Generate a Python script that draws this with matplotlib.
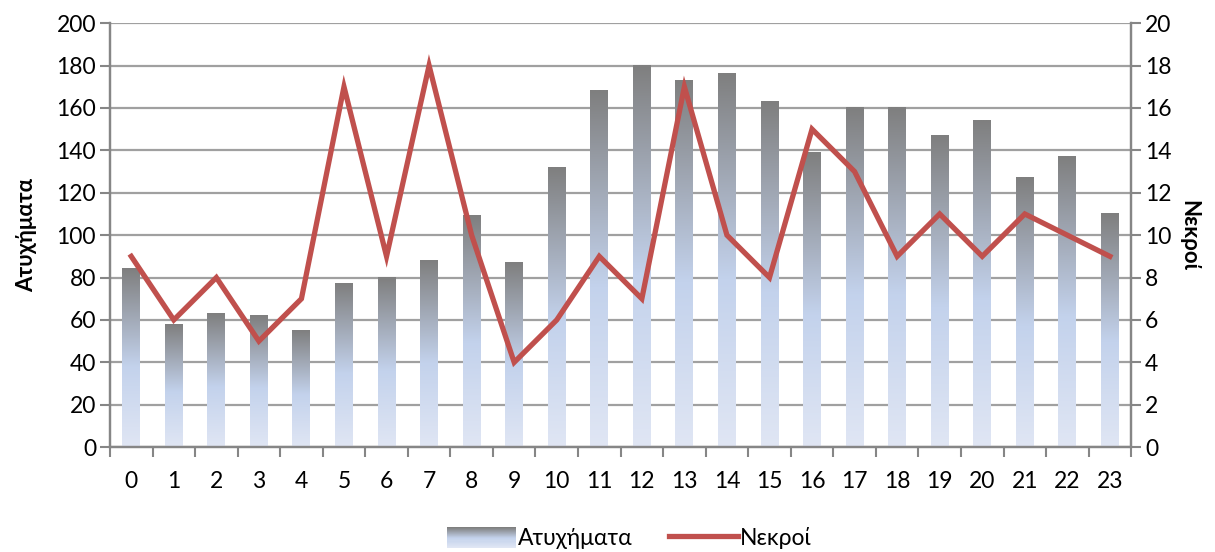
import numpy as np
import matplotlib
matplotlib.use('Agg')
import matplotlib.pyplot as plt
from matplotlib.colors import LinearSegmentedColormap
from matplotlib.legend_handler import HandlerBase
from matplotlib.patches import Rectangle
from matplotlib.lines import Line2D

plt.rcParams['font.family'] = ['Lato', 'DejaVu Sans']

hours = list(range(24))
accidents = [84, 58, 63, 62, 55, 77, 80, 88, 109, 87, 132, 168, 180, 173, 176, 163,
             139, 160, 160, 147, 154, 127, 137, 110]
deaths = [9, 6, 8, 5, 7, 17, 9, 18, 10, 4, 6, 9, 7, 17, 10, 8, 15, 13, 9, 11, 9, 11, 10, 9]

# gradient: light at bottom -> blue -> gray at top
cmap = LinearSegmentedColormap.from_list(
    'xl', [(0.0, '#E0E6F4'), (0.45, '#C3D2EC'), (1.0, '#7F7F7F')])
grad = np.linspace(0, 1, 256).reshape(-1, 1)

fig = plt.figure(figsize=(12.15, 5.52), dpi=100)
ax = fig.add_axes([0.0905, 0.19, 0.8405, 0.768])
ax2 = ax.twinx()

bars = ax.bar(hours, accidents, width=0.42, color='none', edgecolor='none', zorder=2)
for b in bars:
    x0, w, h = b.get_x(), b.get_width(), b.get_height()
    ax.imshow(grad, cmap=cmap, origin='lower', aspect='auto',
              extent=[x0, x0 + w, 0, h], zorder=2)

ax.set_xlim(-0.5, 23.5)
ax.set_ylim(0, 200)
ax.set_yticks(range(0, 201, 20))
ax.set_xticks(hours)
ax.set_xticks(np.arange(-0.5, 24, 1), minor=True)
ax.tick_params(axis='x', which='major', length=0, pad=17, labelsize=16.5)
ax.tick_params(axis='x', which='minor', length=7, width=1.5, color='#868686', direction='out')
ax.tick_params(axis='y', length=7, width=1.5, color='#868686', labelsize=16.5, pad=3)
ax.grid(axis='y', color='#A0A0A0', linewidth=1.6, zorder=0)
ax.set_axisbelow(True)
ax.set_ylabel('Ατυχήματα', fontsize=16, fontweight='bold', labelpad=14)

ax2.plot(hours, deaths, color='#C0504D', linewidth=3.8, solid_joinstyle='miter', zorder=3)
ax2.set_ylim(0, 20)
ax2.set_yticks(range(0, 21, 2))
ax2.tick_params(axis='y', length=7, width=1.5, color='#868686', labelsize=16.5, pad=3)
ax2.set_ylabel('Νεκροί', fontsize=16, fontweight='bold', rotation=270, labelpad=20)

for a in (ax, ax2):
    a.spines['top'].set_visible(False)
    for s in ('left', 'right', 'bottom'):
        a.spines[s].set_color('#868686')
        a.spines[s].set_linewidth(1.6)


class GradientHandler(HandlerBase):
    def create_artists(self, legend, orig_handle, xdescent, ydescent,
                       width, height, fontsize, trans):
        n = 20
        arts = []
        for i in range(n):
            r = Rectangle((-xdescent, -ydescent + height * i / n), width, height / n + 0.3,
                          facecolor=cmap(i / (n - 1)), edgecolor='none', transform=trans)
            arts.append(r)
        return arts


bar_handle = Rectangle((0, 0), 1, 1)
line_handle = Line2D([0], [0], color='#C0504D', linewidth=3.8)
fig.legend([bar_handle, line_handle], ['Ατυχήματα', 'Νεκροί'],
           handler_map={Rectangle: GradientHandler()},
           loc='center', bbox_to_anchor=(0.518, 0.025), ncol=2, frameon=False,
           fontsize=16.5, handlelength=3.0, handleheight=1.0, columnspacing=1.6,
           handletextpad=0.1)

fig.savefig('out.png', dpi=100)
